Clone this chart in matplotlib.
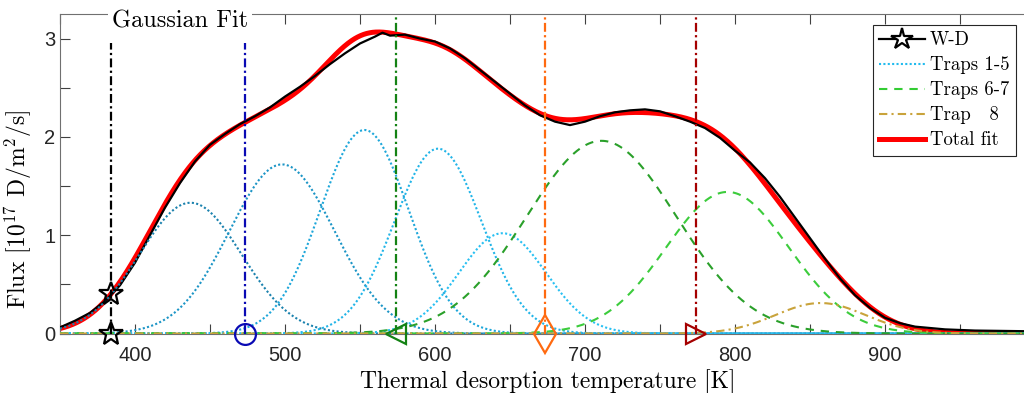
import numpy as np
import matplotlib
matplotlib.use("Agg")
import matplotlib.pyplot as plt
from matplotlib.lines import Line2D
from matplotlib.ticker import FixedLocator, MultipleLocator

plt.rcParams['mathtext.fontset'] = 'cm'

# --- data ---
# measured W-D desorption flux [1e17 D/m2/s] vs temperature [K]
wd_temp = [350, 360, 370, 380, 390, 400, 410, 420, 430, 440, 450, 460, 470, 480,
           490, 500, 510, 520, 530, 540, 550, 560, 565, 570, 580, 590, 600, 610,
           620, 630, 640, 650, 660, 670, 680, 690, 700, 710, 720, 730, 740, 750,
           760, 770, 780, 790, 800, 810, 820, 830, 840, 850, 860, 870, 880, 890,
           900, 910, 920, 940, 960, 980, 1000]
wd_flux = [0.062, 0.13, 0.21, 0.33, 0.49, 0.72, 1.00, 1.28, 1.53, 1.75, 1.92, 2.03,
           2.13, 2.21, 2.30, 2.41, 2.51, 2.62, 2.74, 2.85, 2.95, 3.02, 3.06, 3.03,
           3.04, 3.00, 2.97, 2.90, 2.80, 2.68, 2.56, 2.44, 2.32, 2.22, 2.155, 2.12,
           2.155, 2.21, 2.25, 2.27, 2.28, 2.26, 2.21, 2.155, 2.09, 1.99, 1.86, 1.74,
           1.58, 1.39, 1.18, 0.97, 0.76, 0.56, 0.39, 0.26, 0.16, 0.105, 0.07,
           0.042, 0.03, 0.026, 0.022]

# gaussian trap peaks (traps 1-8)
peak_center = [437, 498, 553, 602, 645, 711, 795, 857]
peak_height = [1.33, 1.72, 2.07, 1.88, 1.02, 1.96, 1.44, 0.31]
peak_sigma = [34, 35, 29.5, 29, 29, 50, 41, 30]
trap_colors = ['#1B82AE', '#1C95C6', '#1EA7DA', '#22B5E8', '#28C0F2',
               '#2AA02A', '#3CCC3C', '#C9A33B']

# vertical marker lines: position, top, colour, marker
vline_x = [384, 473, 574, 673, 774]
vline_top = [2.95, 2.95, 3.4, 3.4, 3.4]
vline_colors = ['black', '#0A0AB4', '#148214', '#FF6A10', '#A50000']
vline_markers = ['*', 'o', '<', 'd', '>']
star_on_curve = (384, 0.40)

x_major = [400, 500, 600, 700, 800, 900]

# --- figure ---
fig = plt.figure(figsize=(10.24, 3.93), dpi=100)
ax = fig.add_axes([60 / 1024, 59.5 / 393, 975 / 1024, 319.5 / 393])

T = np.linspace(350, 1000, 1301)
comps = [h * np.exp(-(T - c) ** 2 / (2 * s ** 2))
         for c, h, s in zip(peak_center, peak_height, peak_sigma)]
total = np.sum(comps, axis=0)

ax.plot(T, total, color='red', lw=3.6, zorder=2)
ax.plot(wd_temp, wd_flux, color='black', lw=1.6, zorder=3)

for i, y in enumerate(comps):
    if i < 5:
        ls = (0, (1, 1.1))
    elif i < 7:
        ls = (0, (4, 3.3))
    else:
        ls = (0, (4, 2, 1, 2))
    ax.plot(T, y, color=trap_colors[i], lw=1.5, ls=ls, zorder=4)

for x, top, c, m in zip(vline_x, vline_top, vline_colors, vline_markers):
    ax.plot([x, x], [0, top], color=c, lw=1.6, ls=(0, (4, 1.5, 1, 1.5)), zorder=5)
    ms = 18 if m == '*' else (19 if m == 'd' else 15)
    ax.plot([x], [0], marker=m, ms=ms, mfc='none', mec=c, mew=1.6,
            clip_on=False, zorder=6)
ax.plot([star_on_curve[0]], [star_on_curve[1]], marker='*', ms=18, mfc='none',
        mec='black', mew=1.6, zorder=6)

ax.set_xlim(350, 1000)
ax.set_ylim(0, 3.25)
ax.xaxis.set_major_locator(FixedLocator(x_major))
ax.xaxis.set_minor_locator(MultipleLocator(50))
ax.yaxis.set_major_locator(MultipleLocator(1))
ax.yaxis.set_minor_locator(MultipleLocator(0.5))
ax.tick_params(which='both', direction='in', top=True, right=True, length=7,
               width=0.8, color='#404040', labelcolor='#262626', labelsize=14.5)
ax.tick_params(axis='x', pad=9)
for lab in ax.get_xticklabels() + ax.get_yticklabels():
    lab.set_fontfamily('Liberation Sans')
for sp in ax.spines.values():
    sp.set_color('#707070')
    sp.set_linewidth(0.8)

ax.set_xlabel('Thermal desorption temperature [K]', family='cmr10', fontsize=17,
              labelpad=3)
ax.set_ylabel(r'Flux [$10^{17}$ D/m$^2$/s]', family='cmr10', fontsize=17)
ax.yaxis.set_label_coords(-0.027, 0.39)

ax.text(0.123, 0.978, 'Gaussian Fit', transform=ax.transAxes, family='cmr10',
        fontsize=17.5, ha='center', va='center', zorder=10,
        bbox=dict(facecolor='white', edgecolor='none', pad=3))

handles = [
    Line2D([], [], color='black', lw=1.6, marker='*', ms=16, mfc='white',
           mec='black', mew=1.6),
    Line2D([], [], color='#22BBEE', lw=1.5, ls=(0, (1, 1.1))),
    Line2D([], [], color='#33CC33', lw=1.5, ls=(0, (4, 3.3))),
    Line2D([], [], color='#C9A33B', lw=1.5, ls=(0, (4, 2, 1, 2))),
    Line2D([], [], color='red', lw=3.6),
]
labels = ['W-D', 'Traps 1-5', 'Traps 6-7', 'Trap   8', 'Total fit']
leg = ax.legend(handles, labels, loc='upper right',
                bbox_to_anchor=((1016 - 60) / 975, 1 - 11 / 319.5),
                prop={'family': 'cmr10', 'size': 13.5}, fancybox=False,
                framealpha=1, edgecolor='#262626', handlelength=2.45,
                handletextpad=0.25, borderpad=0.35, labelspacing=0.37,
                borderaxespad=0)
leg.get_frame().set_linewidth(0.8)

fig.savefig('out.png', dpi=100)
